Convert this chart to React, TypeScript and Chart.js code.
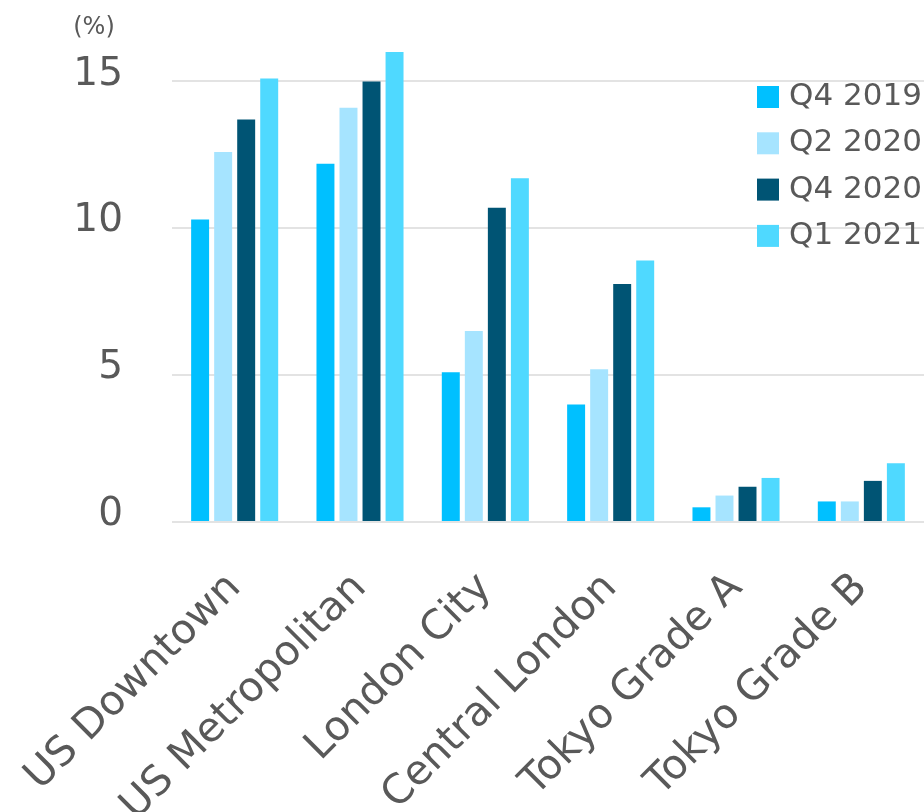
import React, { useEffect, useRef } from "react";
import { Chart, registerables } from "chart.js";

Chart.register(...registerables);

const categories = ["US Downtown", "US Metropolitan", "London City", "Central London", "Tokyo Grade A", "Tokyo Grade B"];
const seriesLabels = ["Q4 2019", "Q2 2020", "Q4 2020", "Q1 2021"];
const q4_2019 = [10.3, 12.2, 5.1, 4.0, 0.5, 0.7];
const q2_2020 = [12.6, 14.1, 6.5, 5.2, 0.9, 0.7];
const q4_2020 = [13.7, 15.0, 10.7, 8.1, 1.2, 1.4];
const q1_2021 = [15.1, 16.0, 11.7, 8.9, 1.5, 2.0];
const yTicks = [0, 5, 10, 15];
const unitLabel = "(%)";

const colors = ["#00C0FF", "#A6E4FF", "#005474", "#4FD9FF"];
const FONT = "'DejaVu Sans', Verdana, sans-serif";
const TEXT = "#595959";

const overlayPlugin = {
  id: "overlay",
  afterDraw(chart: any) {
    const { ctx, chartArea } = chart;
    ctx.save();
    // unit label
    ctx.fillStyle = TEXT;
    ctx.font = `24px ${FONT}`;
    ctx.textAlign = "center";
    ctx.textBaseline = "middle";
    ctx.fillText(unitLabel, chartArea.left - 78, 28);
    // legend
    const lx = chartArea.right - 167;
    const ly = chartArea.top + 45;
    const rowH = 46.3;
    ctx.font = `31px ${FONT}`;
    ctx.textAlign = "left";
    chart.data.datasets.forEach((ds: any, i: number) => {
      const cy = ly + i * rowH;
      ctx.fillStyle = ds.backgroundColor;
      ctx.fillRect(lx, cy - 11, 22, 22);
      ctx.fillStyle = TEXT;
      ctx.fillText(ds.label, lx + 32, cy);
    });
    ctx.restore();
  },
};

export default function App() {
  const ref = useRef<HTMLCanvasElement>(null);
  useEffect(() => {
    if (!ref.current) return;
    const series = [q4_2019, q2_2020, q4_2020, q1_2021];
    const chart = new Chart(ref.current, {
      type: "bar",
      data: {
        labels: categories,
        datasets: series.map((d, i) => ({
          label: seriesLabels[i],
          data: d,
          backgroundColor: colors[i],
          borderWidth: 0,
          categoryPercentage: 0.735,
          barPercentage: 0.78,
        })),
      },
      options: {
        animation: false,
        responsive: false,
        maintainAspectRatio: false,
        layout: { padding: { top: 52, right: 0, left: 0, bottom: 0 } },
        plugins: { legend: { display: false }, tooltip: { enabled: false } },
        scales: {
          x: {
            grid: { display: false },
            border: { display: false },
            ticks: {
              maxRotation: 45,
              minRotation: 45,
              autoSkip: false,
              padding: 34,
              color: TEXT,
              font: { family: FONT, size: 41 },
            },
            afterFit(scale: any) {
              scale.height = 290;
              scale.paddingLeft = 0;
              scale.paddingRight = 0;
              scale.paddingTop = 0;
              scale.paddingBottom = 0;
            },
          },
          y: {
            min: 0,
            max: 16,
            grid: { color: "#e3e3e3", lineWidth: 2, drawTicks: false },
            border: { display: false },
            ticks: {
              stepSize: 5,
              padding: 49,
              labelOffset: -7,
              color: TEXT,
              font: { family: FONT, size: 39 },
            },
            afterBuildTicks(scale: any) {
              scale.ticks = yTicks.map((v) => ({ value: v }));
            },
            afterFit(scale: any) {
              scale.width = 172;
              scale.paddingTop = 0;
              scale.paddingBottom = 0;
              scale.paddingLeft = 0;
              scale.paddingRight = 0;
            },
          },
        },
      },
      plugins: [overlayPlugin],
    });
    return () => chart.destroy();
  }, []);
  return (
    <div style={{ position: "absolute", left: 0, top: 0, width: 924, height: 812, overflow: "hidden" }}>
      <canvas ref={ref} width={924} height={812} style={{ display: "block" }} />
    </div>
  );
}
